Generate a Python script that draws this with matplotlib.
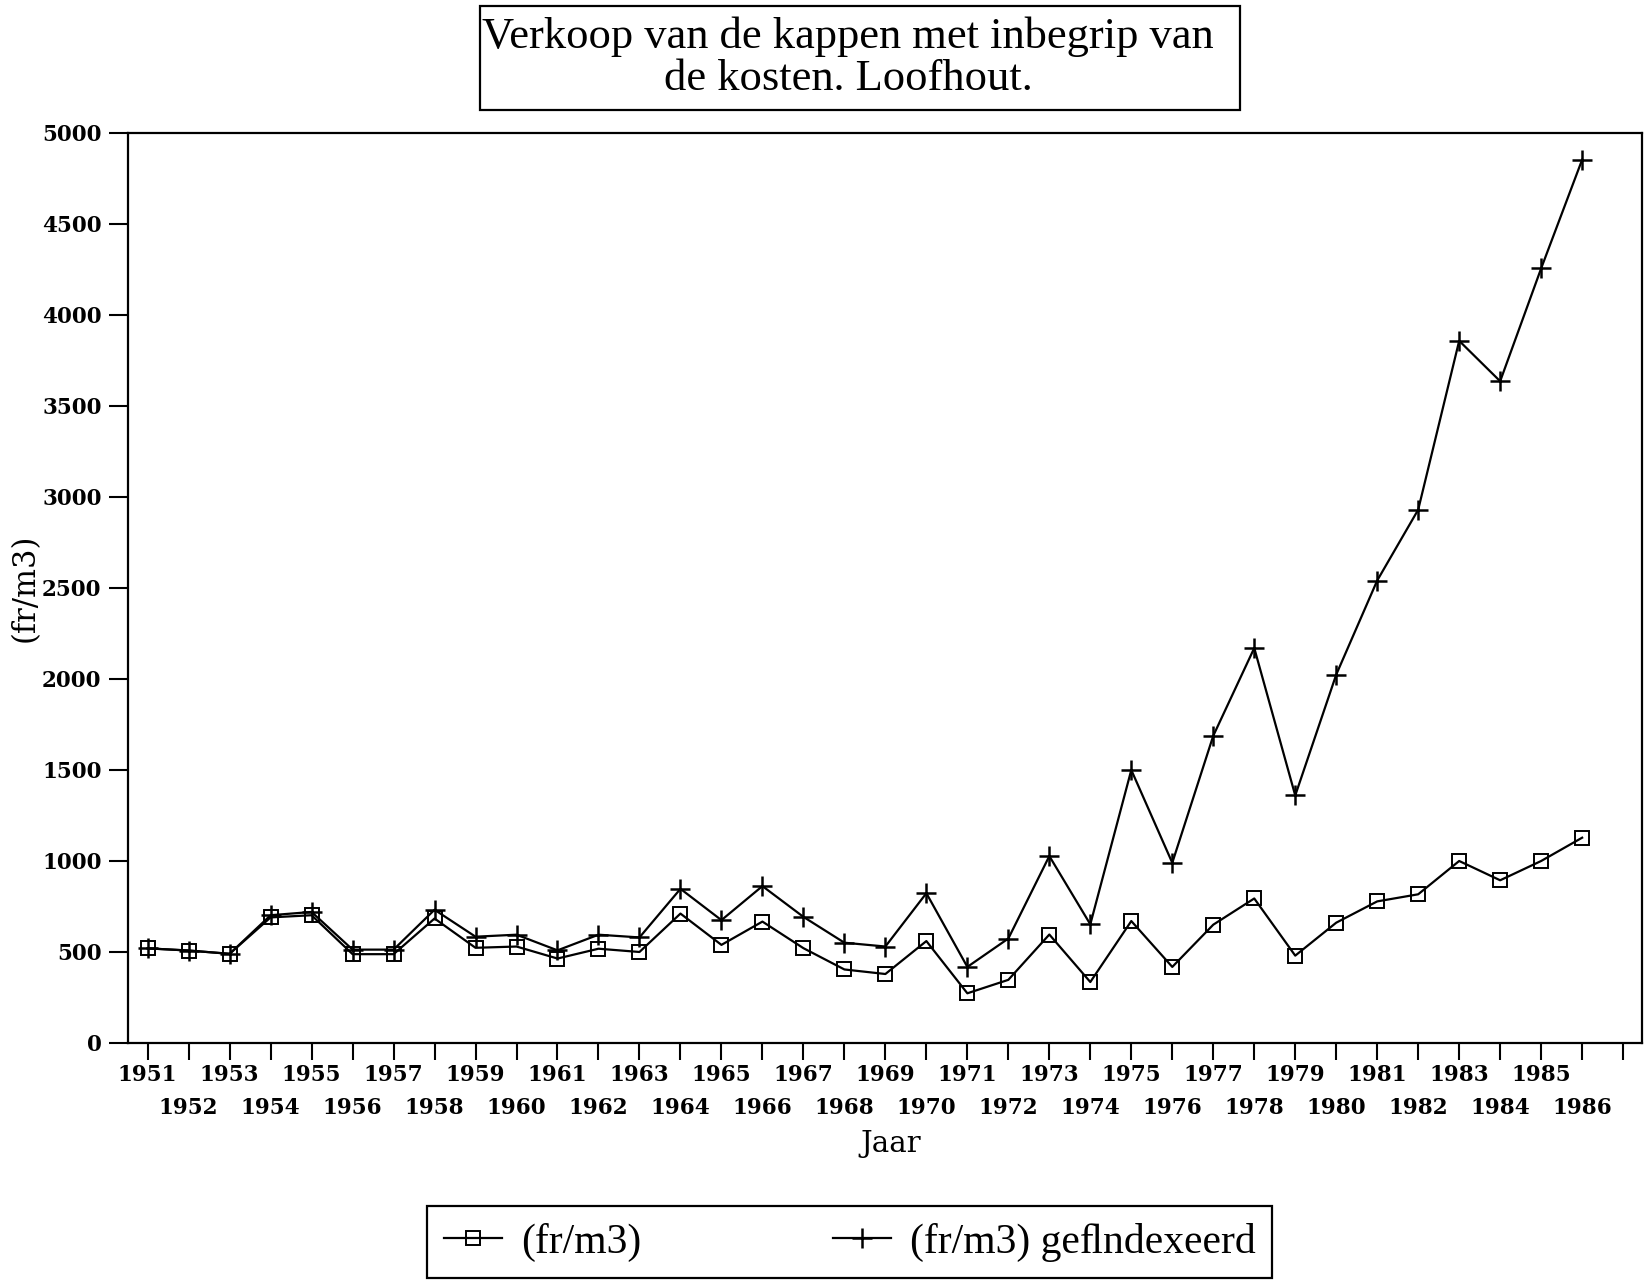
import matplotlib
matplotlib.use("Agg")
import matplotlib.pyplot as plt
from matplotlib.patches import Rectangle
from matplotlib.lines import Line2D

# Data
jaren = list(range(1951, 1987))
fr_m3 = [520, 508, 490, 690, 702, 488, 488, 684, 523, 530, 464, 518, 500,
         711, 539, 667, 521, 404, 379, 560, 273, 347, 596, 335, 670, 418,
         650, 794, 480, 661, 778, 817, 1000, 894, 1000, 1128]
fr_m3_geindexeerd = [520, 508, 490, 702, 720, 513, 513, 732, 584, 595, 509,
                     595, 580, 847, 675, 862, 693, 551, 530, 823, 418, 574,
                     1027, 652, 1500, 990, 1688, 2170, 1360, 2024, 2541,
                     2930, 3858, 3636, 4256, 4853]
y_ticks = list(range(0, 5001, 500))

serif = ['Liberation Serif', 'DejaVu Serif']
tickfont = 'DejaVu Serif'

fig = plt.figure(figsize=(16.47, 12.81), dpi=100)
ax = fig.add_axes([0.0777, 0.1858, 0.919, 0.7104])

ax.plot(jaren, fr_m3, color='black', lw=1.6, marker='s', ms=10.5,
        mfc='none', mec='black', mew=1.4)
ax.plot(jaren, fr_m3_geindexeerd, color='black', lw=1.6, marker='+',
        ms=14, mew=1.8)

ax.set_xlim(1950.52, 1987.45)
ax.set_ylim(0, 5000)

# odd years on the first row, even years on the second row
odd = [j for j in range(1951, 1988) if j % 2 == 1]
even = [j for j in range(1952, 1988) if j % 2 == 0]
ax.set_xticks(odd)
ax.set_xticklabels([str(j) if j <= 1986 else '' for j in odd])
ax.set_xticks(even, minor=True)
ax.set_xticklabels([str(j) if j <= 1986 else '' for j in even], minor=True)
ax.tick_params(axis='x', which='major', direction='out', length=12,
               width=1.5, pad=3, labelsize=15.5)
ax.tick_params(axis='x', which='minor', direction='out', length=12,
               width=1.5, pad=27, labelsize=15.5)
ax.set_yticks(y_ticks)
ax.tick_params(axis='y', direction='out', length=14, width=1.5, pad=5,
               labelsize=15.5)
for lab in ax.get_xticklabels(which='both') + ax.get_yticklabels():
    lab.set_fontfamily(tickfont)
    lab.set_fontweight('bold')

for s in ax.spines.values():
    s.set_linewidth(1.6)

ax.set_xlabel('Jaar', fontsize=21, family=tickfont)
ax.xaxis.set_label_coords(0.504, -0.096)
ax.set_ylabel('(fr/m3)', fontsize=22, family=tickfont)
ax.yaxis.set_label_coords(-0.058, 0.5)

# title box
fig.patches.append(Rectangle((480 / 1647, 1 - 110 / 1281), 760 / 1647, 104 / 1281,
                             transform=fig.transFigure, fill=False,
                             lw=1.6, ec='black'))
fig.text(0.515, 0.9547, 'Verkoop van de kappen met inbegrip van\nde kosten. Loofhout.',
         ha='center', va='center', fontsize=32, family=serif, linespacing=1.07)

handles = [Line2D([], [], color='black', lw=1.6, marker='s', ms=10.5,
                  mfc='none', mew=1.4),
           Line2D([], [], color='black', lw=1.6, marker='+', ms=14, mew=1.8)]
leg = fig.legend(handles, ['(fr/m3)', '(fr/m3) ge\ufb02ndexeerd'], ncol=2,
                 loc='upper center', bbox_to_anchor=(0.516, 0.0585),
                 prop={'family': serif, 'size': 30}, frameon=True,
                 fancybox=False, edgecolor='black', framealpha=1,
                 handlelength=1.4, handletextpad=0.45, columnspacing=4.6,
                 borderpad=0.4, borderaxespad=0)
leg.get_frame().set_linewidth(1.6)

fig.savefig('out.png', dpi=100)
